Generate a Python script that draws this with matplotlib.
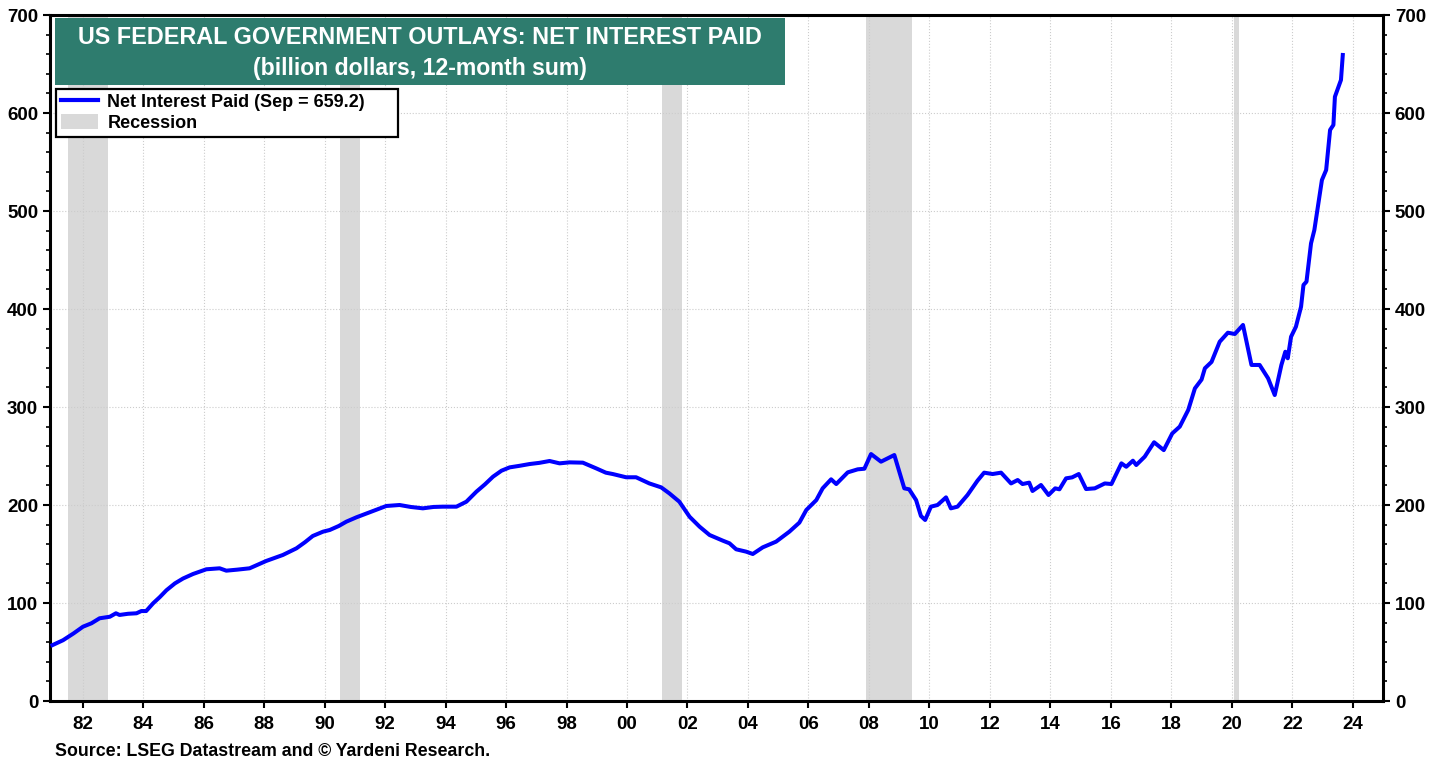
import matplotlib
matplotlib.use("Agg")
import matplotlib.pyplot as plt
from matplotlib.lines import Line2D
from matplotlib.patches import Patch, Rectangle
from matplotlib.ticker import MultipleLocator, FixedLocator

plt.rcParams['font.family'] = ['Liberation Sans', 'DejaVu Sans']
plt.rcParams['font.weight'] = 'bold'

# ---- data (decimal year, billion dollars) ----
dates = [1981.00, 1981.35, 1981.70, 1982.01, 1982.29, 1982.56, 1982.90, 1983.10, 1983.22, 1983.50,
         1983.78, 1983.94, 1984.10, 1984.33, 1984.55, 1984.77, 1985.05, 1985.32, 1985.65, 1986.09,
         1986.53, 1986.75, 1987.10, 1987.52, 1988.07, 1988.62, 1989.07, 1989.35, 1989.61, 1989.95,
         1990.17, 1990.47, 1990.72, 1991.05, 1991.60, 1992.04, 1992.48, 1992.85, 1993.25, 1993.60,
         1993.91, 1994.36, 1994.69, 1995.02, 1995.30, 1995.57, 1995.85, 1996.12, 1996.45, 1996.78,
         1997.10, 1997.44, 1997.77, 1998.10, 1998.54, 1998.98, 1999.30, 1999.53, 1999.97, 2000.30,
         2000.74, 2001.13, 2001.40, 2001.73, 2002.07, 2002.40, 2002.73, 2003.17, 2003.39, 2003.61,
         2003.94, 2004.16, 2004.49, 2004.93, 2005.37, 2005.70, 2005.93, 2006.26, 2006.47, 2006.75,
         2006.92, 2007.30, 2007.63, 2007.85, 2008.07, 2008.40, 2008.84, 2009.17, 2009.33, 2009.56,
         2009.72, 2009.86, 2010.05, 2010.27, 2010.55, 2010.71, 2010.93, 2011.26, 2011.59, 2011.81,
         2012.09, 2012.37, 2012.70, 2012.92, 2013.08, 2013.30, 2013.41, 2013.69, 2013.94, 2014.16,
         2014.30, 2014.52, 2014.72, 2014.94, 2015.18, 2015.47, 2015.80, 2016.02, 2016.35, 2016.51,
         2016.73, 2016.84, 2017.12, 2017.43, 2017.75, 2018.03, 2018.28, 2018.56, 2018.78, 2019.00,
         2019.11, 2019.33, 2019.60, 2019.87, 2020.10, 2020.37, 2020.65, 2020.92, 2021.20, 2021.42,
         2021.64, 2021.77, 2021.85, 2021.96, 2022.12, 2022.29, 2022.37, 2022.47, 2022.62, 2022.73,
         2022.98, 2023.12, 2023.25, 2023.36, 2023.41, 2023.61, 2023.67]
net_interest = [57, 62, 69, 75.8, 79.3, 84.4, 86, 89.5, 87.8, 89,
                89.5, 91.8, 91.8, 99.7, 106, 113, 120, 125, 129.6, 134.4,
                135.4, 133, 134, 135.4, 142.9, 149, 155.8, 162, 168.4, 172.8,
                174.5, 178.6, 183, 187.4, 193.9, 199, 200, 198, 196.6, 198,
                198.3, 198.3, 203.4, 213.6, 221, 228.9, 235, 238.4, 240, 241.8,
                243, 244.9, 242.5, 243.5, 243.2, 237.4, 233, 231.6, 228.3, 228.3,
                222, 218, 211.9, 203.4, 188, 177.9, 169.4, 163.6, 160.9, 154.8,
                152.4, 150, 156.8, 162.6, 172.8, 182, 194.9, 205, 217, 226.2,
                221.4, 233.3, 236.4, 237, 252, 244.2, 251, 217, 216, 205,
                188.8, 184.7, 198.3, 200, 207.8, 196.6, 198.3, 210.2, 224.8, 233,
                231.6, 233, 222, 225.5, 221.4, 222.8, 214.3, 220.4, 210.2, 217,
                216, 227.2, 228.2, 231.6, 216.3, 217, 222, 221.4, 242.5, 239,
                245.2, 240.8, 249.3, 264, 256, 273, 280, 297, 319, 328,
                339.5, 346, 366.6, 375.8, 374.5, 383.7, 342.9, 342.9, 329.3, 312.2,
                342.9, 356.4, 349.7, 371.7, 381.9, 402.3, 424.5, 427.9, 467, 480.6,
                531.6, 541.8, 582.7, 587.8, 616.6, 633.7, 659.2]

recession_start = [1981.50, 1990.50, 2001.17, 2007.92, 2020.08]
recession_end = [1982.83, 1991.17, 2001.83, 2009.42, 2020.25]

xtick_years = list(range(1982, 2025, 2))
xtick_labels = ["%02d" % (y % 100) for y in xtick_years]
yticks = [0, 100, 200, 300, 400, 500, 600, 700]

title_line1 = "US FEDERAL GOVERNMENT OUTLAYS: NET INTEREST PAID"
title_line2 = "(billion dollars, 12-month sum)"
legend_line = "Net Interest Paid (Sep = 659.2)"
legend_rec = "Recession"
source = "Source: LSEG Datastream and \u00a9 Yardeni Research."

BLUE = "#0000FF"
GREY = "#D9D9D9"
GREEN = "#2E7C6E"

fig = plt.figure(figsize=(14.46, 7.65), dpi=100)
ax = fig.add_axes([50/1446, 64/765, 1333/1446, 686/765])

for s, e in zip(recession_start, recession_end):
    ax.axvspan(s, e, color=GREY, lw=0, zorder=1)

ax.plot(dates, net_interest, color=BLUE, lw=2.9, zorder=3, solid_joinstyle='round')

ax.set_xlim(1980.92, 2025.0)
ax.set_ylim(0, 700)

ax.xaxis.set_major_locator(FixedLocator(xtick_years))
ax.set_xticklabels(xtick_labels)
ax.yaxis.set_major_locator(FixedLocator(yticks))
ax.yaxis.set_minor_locator(MultipleLocator(20))

ax.grid(True, which='major', color='#CCCCCC', linestyle=':', lw=0.8, zorder=0)

ax.tick_params(axis='both', which='major', labelsize=13.5, width=1.5, length=5, direction='out', color='black')
ax.tick_params(axis='y', which='minor', width=1.2, length=3, direction='out')
ax.tick_params(axis='y', which='both', left=True, right=True, labelleft=True, labelright=True)
ax.tick_params(axis='x', pad=6)

for lab in ax.get_xticklabels() + ax.get_yticklabels():
    lab.set_fontweight('bold')
for t in ax.yaxis.get_major_ticks():
    t.label2.set_fontweight('bold')
    t.label2.set_fontsize(13.5)

for sp in ax.spines.values():
    sp.set_linewidth(2.2)
    sp.set_color('black')

# title box
ax.add_patch(Rectangle((5/1333, (701-85)/686), 730/1333, 67/686, transform=ax.transAxes,
                       facecolor=GREEN, edgecolor='none', zorder=5))
ax.text(370/1333, (701-37)/686, title_line1, transform=ax.transAxes, ha='center', va='center',
        color='white', fontsize=16.8, fontweight='bold', zorder=6)
ax.text(370/1333, (701-68)/686, title_line2, transform=ax.transAxes, ha='center', va='center',
        color='white', fontsize=16.6, fontweight='bold', zorder=6)

# legend frame drawn separately to match the reference box size
ax.add_patch(Rectangle((6/1333, (701-137)/686), 342/1333, 48/686, transform=ax.transAxes,
                       facecolor='white', edgecolor='black', lw=1.6, zorder=6))
handles = [Line2D([0], [0], color=BLUE, lw=3), Patch(facecolor=GREY, edgecolor='none')]
leg = ax.legend(handles, [legend_line, legend_rec], loc='upper left',
                bbox_to_anchor=(6/1333, (701-89)/686), borderaxespad=0,
                prop={'weight': 'bold', 'size': 13}, frameon=False,
                handlelength=2.1, handleheight=0.9,
                labelspacing=0.15, borderpad=0.25, handletextpad=0.5)
leg.set_zorder(7)

fig.text(55/1446, 13/765, source, ha='left', va='center', fontsize=12.8, fontweight='bold')

fig.savefig("out.png", dpi=100)
